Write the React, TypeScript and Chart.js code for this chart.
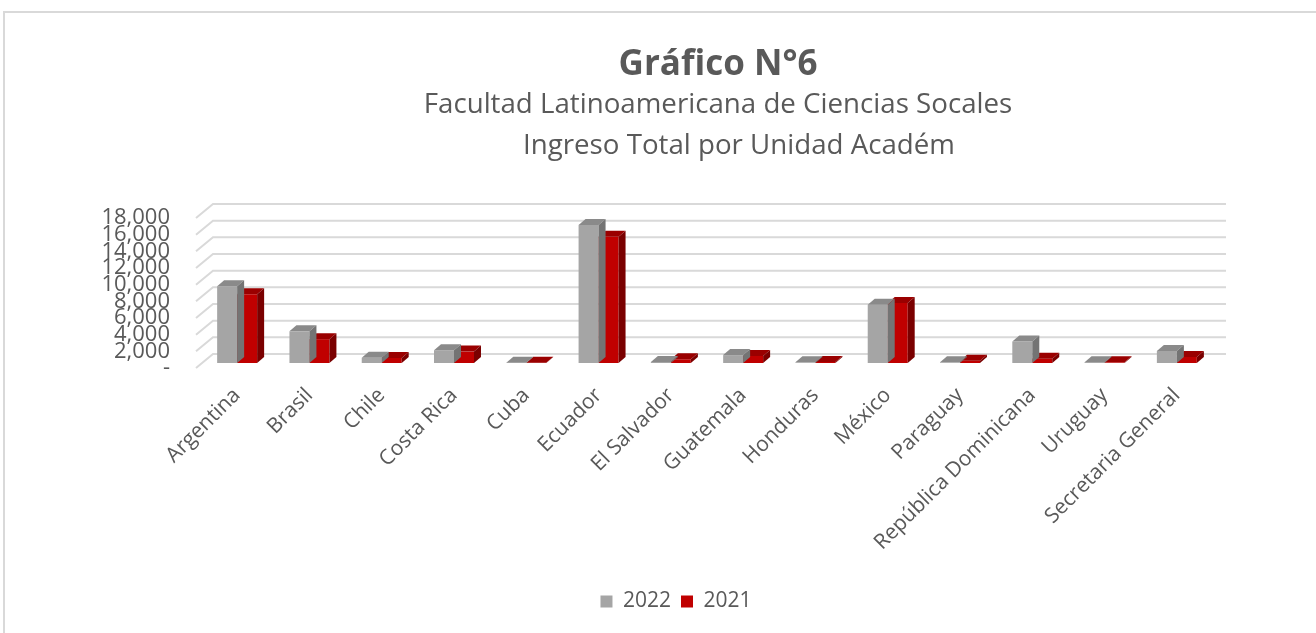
import React, { useEffect, useRef } from "react";
import { Chart, registerables } from "chart.js";

Chart.register(...registerables);

const categories = [
  "Argentina",
  "Brasil",
  "Chile",
  "Costa Rica",
  "Cuba",
  "Ecuador",
  "El Salvador",
  "Guatemala",
  "Honduras",
  "México",
  "Paraguay",
  "República Dominicana",
  "Uruguay",
  "Secretaria General",
];
const seriesNames = ["2022", "2021"];
const values2022 = [9200, 3800, 620, 1530, 30, 16550, 120, 950, 80, 7000, 80, 2570, 100, 1450];
const values2021 = [8250, 2860, 600, 1370, 30, 15150, 450, 850, 120, 7200, 280, 520, 80, 720];
const yMin = 0;
const yMax = 18000;
const yStep = 2000;

const titleText = "Gráfico N°6";
const subtitleLines = ["Facultad Latinoamericana de Ciencias Socales", "Ingreso Total por Unidad Académ"];

const FONT = "'Open Sans', 'Noto Sans', sans-serif";
const TEXT = "#595959";
const GRID = "#d9d9d9";
const frontColors = ["#a5a5a5", "#c00000"];
const topColors = ["#8a8a8a", "#9a0000"];
const sideColors = ["#747474", "#7a0000"];
const DX = 7;
const DY = 6;

const wallGrid = {
  id: "wallGrid",
  beforeDatasetsDraw(chart: any) {
    const { ctx, chartArea, scales } = chart;
    const y = scales.y;
    ctx.save();
    ctx.strokeStyle = GRID;
    ctx.lineWidth = 2;
    for (const t of y.ticks) {
      const py = y.getPixelForValue(t.value);
      ctx.beginPath();
      ctx.moveTo(chartArea.left - 5, py + 5);
      ctx.lineTo(chartArea.left + 12, py - 9);
      ctx.lineTo(chartArea.right + 13, py - 9);
      ctx.stroke();
    }
    ctx.restore();
  },
};

const bars3d = {
  id: "bars3d",
  afterDatasetDraw(chart: any, args: any) {
    const { ctx } = chart;
    const i = args.index;
    const meta = args.meta;
    ctx.save();
    for (const el of meta.data) {
      const p = el.getProps(["x", "y", "base", "width"], true);
      const l = p.x - p.width / 2;
      const r = p.x + p.width / 2;
      const top = Math.min(p.y, p.base);
      const bot = Math.max(p.y, p.base);
      ctx.fillStyle = topColors[i];
      ctx.beginPath();
      ctx.moveTo(l, top);
      ctx.lineTo(l + DX, top - DY);
      ctx.lineTo(r + DX, top - DY);
      ctx.lineTo(r, top);
      ctx.closePath();
      ctx.fill();
      ctx.fillStyle = sideColors[i];
      ctx.beginPath();
      ctx.moveTo(r, top);
      ctx.lineTo(r + DX, top - DY);
      ctx.lineTo(r + DX, bot - DY);
      ctx.lineTo(r, bot);
      ctx.closePath();
      ctx.fill();
    }
    ctx.restore();
  },
};

export default function App() {
  const ref = useRef<HTMLCanvasElement | null>(null);

  useEffect(() => {
    if (!ref.current) return;
    const chart = new Chart(ref.current, {
      type: "bar",
      data: {
        labels: categories,
        datasets: [
          {
            label: seriesNames[0],
            data: values2022,
            backgroundColor: frontColors[0],
            borderWidth: 0,
            categoryPercentage: 0.553,
            barPercentage: 1,
          },
          {
            label: seriesNames[1],
            data: values2021,
            backgroundColor: frontColors[1],
            borderWidth: 0,
            categoryPercentage: 0.553,
            barPercentage: 1,
          },
        ],
      },
      options: {
        animation: false,
        responsive: false,
        maintainAspectRatio: false,
        layout: { padding: { left: 90, right: 54, top: 213, bottom: 11 } },
        scales: {
          x: {
            grid: { display: false, drawTicks: false },
            border: { display: false },
            ticks: {
              autoSkip: false,
              minRotation: 45,
              maxRotation: 45,
              padding: 20,
              color: TEXT,
              font: { family: FONT, size: 21 },
            },
            afterFit(scale: any) {
              scale.height = 218;
            },
          },
          y: {
            min: yMin,
            max: yMax,
            grid: { display: false, drawTicks: false },
            border: { display: false },
            ticks: {
              stepSize: yStep,
              autoSkip: false,
              padding: 31,
              labelOffset: 5,
              color: TEXT,
              font: { family: FONT, size: 22 },
              callback: (v: any) => (Number(v) === 0 ? "-" : Number(v).toLocaleString("en-US")),
            },
            afterFit(scale: any) {
              scale.width = 111;
            },
          },
          yRight: {
            position: "right",
            min: yMin,
            max: yMax,
            grid: { display: false, drawTicks: false },
            border: { display: false },
            ticks: { display: false },
            afterFit(scale: any) {
              scale.width = 49;
            },
          },
        },
        plugins: {
          title: { display: false },
          tooltip: { enabled: false },
          legend: {
            display: true,
            position: "bottom",
            labels: {
              boxWidth: 12,
              boxHeight: 12,
              padding: 10,
              color: TEXT,
              font: { family: FONT, size: 21 },
            },
          },
        },
      },
      plugins: [wallGrid, bars3d],
    });
    return () => chart.destroy();
  }, []);

  return (
    <div
      style={{
        position: "fixed",
        left: 0,
        top: 0,
        width: 1316,
        height: 633,
        overflow: "hidden",
        background: "#ffffff",
        fontFamily: FONT,
      }}
    >
      <div
        style={{
          position: "absolute",
          left: 3,
          top: 11,
          width: 1400,
          height: 700,
          borderTop: "2px solid #d9d9d9",
          borderLeft: "2px solid #d9d9d9",
        }}
      />
      <canvas ref={ref} width={1316} height={633} style={{ position: "absolute", left: 0, top: 0 }} />
      <div
        style={{
          position: "absolute",
          left: 718,
          top: 44,
          transform: "translateX(-50%)",
          whiteSpace: "nowrap",
          fontSize: 35,
          lineHeight: "35px",
          fontWeight: 700,
          color: TEXT,
        }}
      >
        {titleText}
      </div>
      <div
        style={{
          position: "absolute",
          left: 718,
          top: 88,
          transform: "translateX(-50%)",
          whiteSpace: "nowrap",
          fontSize: 27.7,
          lineHeight: "28px",
          color: TEXT,
        }}
      >
        {subtitleLines[0]}
      </div>
      <div
        style={{
          position: "absolute",
          left: 739,
          top: 129,
          transform: "translateX(-50%)",
          whiteSpace: "nowrap",
          fontSize: 27.7,
          lineHeight: "28px",
          color: TEXT,
        }}
      >
        {subtitleLines[1]}
      </div>
    </div>
  );
}
